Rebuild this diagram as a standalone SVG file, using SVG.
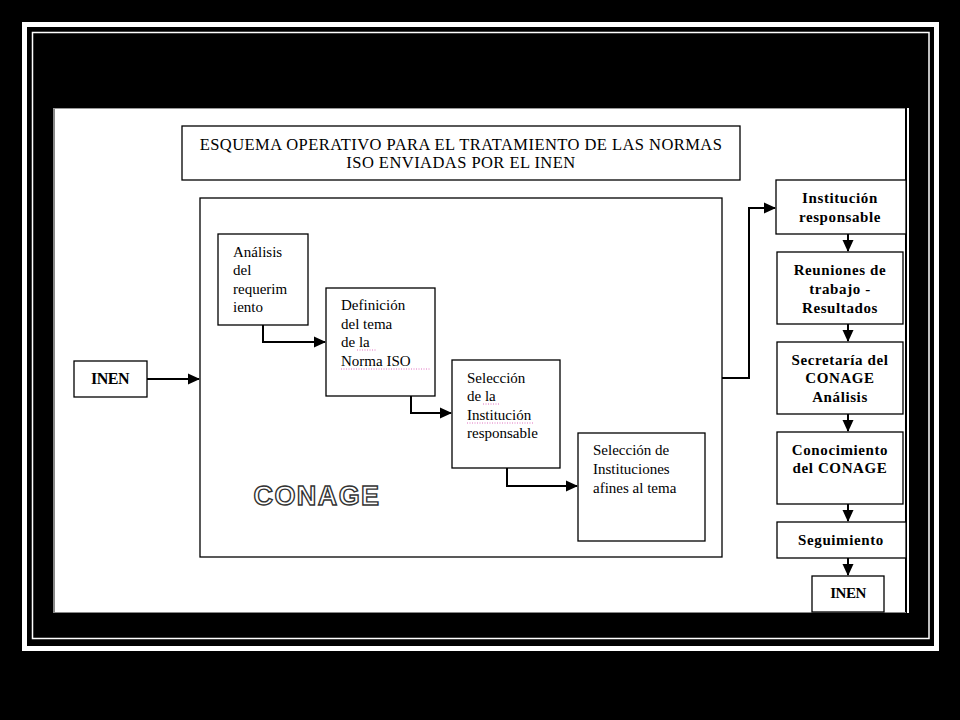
<svg xmlns="http://www.w3.org/2000/svg" width="960" height="720" viewBox="0 0 960 720">
<style>
.box{fill:#fff;stroke:#000;stroke-width:1.3}
.t{font-family:"Liberation Serif","Times New Roman",serif;font-size:15px;fill:#000}
.b{font-family:"Liberation Serif","Times New Roman",serif;font-size:15px;font-weight:bold;fill:#000;text-anchor:middle;letter-spacing:0.6px}
.ttl{font-family:"Liberation Serif","Times New Roman",serif;font-size:16.5px;letter-spacing:0.45px;fill:#000;text-anchor:middle}
.c{fill:none;stroke:#000;stroke-width:2}
.sp{stroke:#e070c0;stroke-width:1;stroke-dasharray:1 1.5}
</style>
<defs>
<marker id="ah" markerWidth="12" markerHeight="12" refX="11" refY="6" orient="auto" markerUnits="userSpaceOnUse">
<path d="M0,0.5 L12,6 L0,11.5 Z" fill="#000"/>
</marker>
</defs>
<rect x="0" y="0" width="960" height="720" fill="#000"/>
<rect x="24.5" y="24.5" width="912" height="624" fill="none" stroke="#fff" stroke-width="5"/>
<rect x="32.5" y="32.5" width="896.5" height="606" fill="none" stroke="#fff" stroke-width="1.5"/>
<rect x="53" y="108" width="856" height="505" fill="#fff"/>
<line x1="54" y1="108" x2="54" y2="613" stroke="#888" stroke-width="2"/>
<line x1="53" y1="108.5" x2="906" y2="108.5" stroke="#999" stroke-width="1"/>
<line x1="906" y1="108" x2="906" y2="613" stroke="#000" stroke-width="2"/>
<line x1="53" y1="612.5" x2="906" y2="612.5" stroke="#888" stroke-width="1"/>

<g id="title">
<rect class="box" x="182" y="126" width="558" height="54"/>
<text class="ttl" x="461" y="150">ESQUEMA OPERATIVO PARA EL TRATAMIENTO DE LAS NORMAS</text>
<text class="ttl" x="461" y="168">ISO ENVIADAS POR EL INEN</text>
</g>

<g id="conage">
<rect class="box" x="200" y="198" width="522" height="359"/>
<text x="317" y="505" text-anchor="middle" font-family="'Liberation Sans',Arial,sans-serif" font-weight="bold" font-size="27" letter-spacing="1.4" fill="#fff" stroke="#333" stroke-width="1.4">CONAGE</text>
</g>

<g id="analisis">
<rect class="box" x="218" y="234" width="90" height="91"/>
<text class="t" x="233" y="257">Análisis</text>
<text class="t" x="233" y="275">del</text>
<text class="t" x="233" y="294">requerim</text>
<text class="t" x="233" y="312">iento</text>
</g>

<g id="definicion">
<rect class="box" x="326" y="288" width="109" height="108"/>
<text class="t" x="341" y="310">Definición</text>
<text class="t" x="341" y="329">del tema</text>
<text class="t" x="341" y="347">de la</text>
<text class="t" x="341" y="366">Norma ISO</text>
<line class="sp" x1="357" y1="350" x2="376" y2="350"/>
<line class="sp" x1="341" y1="369" x2="430" y2="369"/>
</g>

<g id="seleccion">
<rect class="box" x="452" y="360" width="108" height="108"/>
<text class="t" x="467" y="383">Selección</text>
<text class="t" x="467" y="401">de la</text>
<text class="t" x="467" y="420">Institución</text>
<text class="t" x="467" y="438">responsable</text>
<line class="sp" x1="483" y1="404" x2="499" y2="404"/>
<line class="sp" x1="467" y1="423" x2="534" y2="423"/>
</g>

<g id="afines">
<rect class="box" x="578" y="433" width="127" height="108"/>
<text class="t" x="593" y="455">Selección de</text>
<text class="t" x="593" y="474">Instituciones</text>
<text class="t" x="593" y="493">afines al tema</text>
</g>

<g id="inen1">
<rect class="box" x="74" y="361" width="73" height="36"/>
<text class="t" x="110" y="384" style="text-anchor:middle;font-weight:bold;font-size:16px;letter-spacing:-0.5px">INEN</text>
</g>

<g id="inst">
<rect class="box" x="776" y="180" width="130" height="54"/>
<text class="b" x="840" y="203">Institución</text>
<text class="b" x="840" y="222">responsable</text>
</g>
<g id="reuniones">
<rect class="box" x="777" y="252" width="126" height="72"/>
<text class="b" x="840" y="275">Reuniones de</text>
<text class="b" x="840" y="294">trabajo -</text>
<text class="b" x="840" y="313">Resultados</text>
</g>
<g id="secretaria">
<rect class="box" x="777" y="342" width="126" height="72"/>
<text class="b" x="840" y="365">Secretaría del</text>
<text class="b" x="840" y="383">CONAGE</text>
<text class="b" x="840" y="402">Análisis</text>
</g>
<g id="conocimiento">
<rect class="box" x="777" y="432" width="126" height="72"/>
<text class="b" x="840" y="455">Conocimiento</text>
<text class="b" x="840" y="473">del CONAGE</text>
</g>
<g id="seguimiento">
<rect class="box" x="777" y="522" width="129" height="36"/>
<text class="b" x="841" y="545">Seguimiento</text>
</g>
<g id="inen2">
<rect class="box" x="812" y="576" width="72" height="36"/>
<text class="b" x="848" y="598" style="letter-spacing:-0.5px">INEN</text>
</g>

<g id="connectors">
<path class="c" d="M147,379 H199" marker-end="url(#ah)"/>
<path class="c" d="M263,325 V342 H325" marker-end="url(#ah)"/>
<path class="c" d="M411,396 V413 H451" marker-end="url(#ah)"/>
<path class="c" d="M507,468 V486 H577" marker-end="url(#ah)"/>
<path class="c" d="M722,378 H749 V208 H775" marker-end="url(#ah)"/>
<path class="c" d="M848,234 V251" marker-end="url(#ah)"/>
<path class="c" d="M848,324 V341" marker-end="url(#ah)"/>
<path class="c" d="M848,414 V431" marker-end="url(#ah)"/>
<path class="c" d="M848,504 V521" marker-end="url(#ah)"/>
<path class="c" d="M848,558 V575" marker-end="url(#ah)"/>
</g>
</svg>
